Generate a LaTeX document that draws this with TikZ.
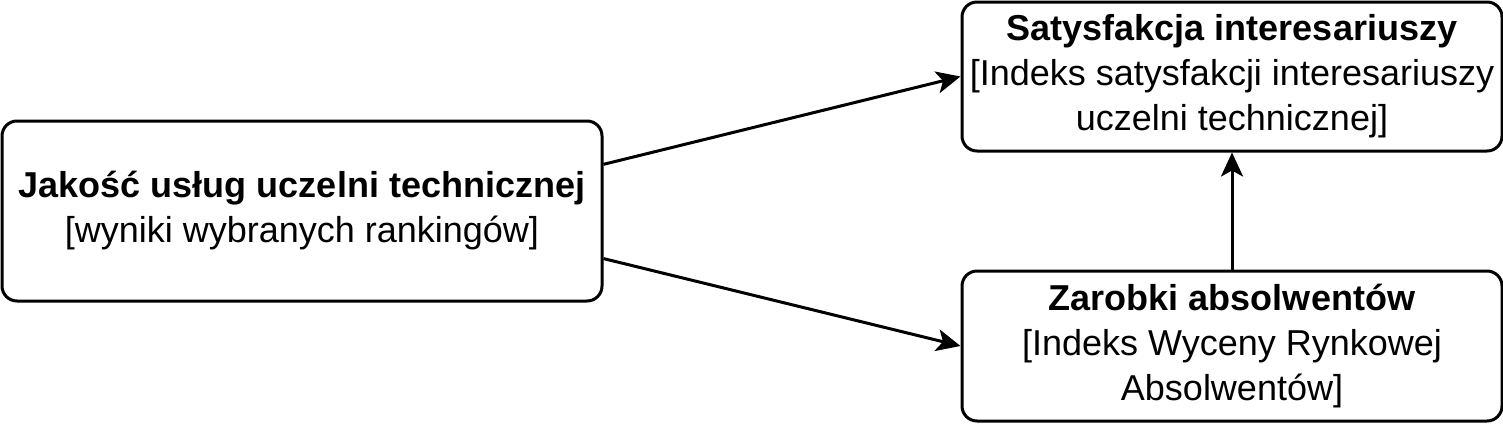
\documentclass[tikz,border=0pt]{standalone}
\usepackage{fontspec}
\setmainfont{Liberation Sans}
\usetikzlibrary{arrows.meta,calc}
\begin{document}
\begin{tikzpicture}[x=1pt,y=1pt,
  box/.style={draw,line width=1.5pt,rounded corners=7.5pt,inner sep=0pt,
    font=\fontsize{18}{22.5}\selectfont,align=center},
  conn/.style={line width=1.5pt,-{Stealth[length=12pt,width=11pt,inset=3pt]}}]
\useasboundingbox (0,0) rectangle (751.5,-211.5);
\node[box,minimum width=300pt,minimum height=90pt] (J) at (151,-105.5) {\textbf{Jakość usług uczelni technicznej}\\{[wyniki wybranych rankingów]}};
\node[box,minimum width=270pt,minimum height=74.5pt] (T) at (616,-38.25) {\textbf{Satysfakcja interesariuszy}\\{[Indeks satysfakcji interesariuszy}\\uczelni technicznej]};
\node[box,minimum width=270pt,minimum height=75pt] (B) at (616,-173) {\textbf{Zarobki absolwentów}\\{[Indeks Wyceny Rynkowej}\\Absolwentów]};
\coordinate (J1) at ($(J.north east)!0.245!(J.south east)$);
\coordinate (J2) at ($(J.north east)!0.76!(J.south east)$);
\draw[conn] (J1) -- (T.west);
\draw[conn] (J2) -- (B.west);
\draw[conn] (B.north) -- (T.south);
\end{tikzpicture}
\end{document}
